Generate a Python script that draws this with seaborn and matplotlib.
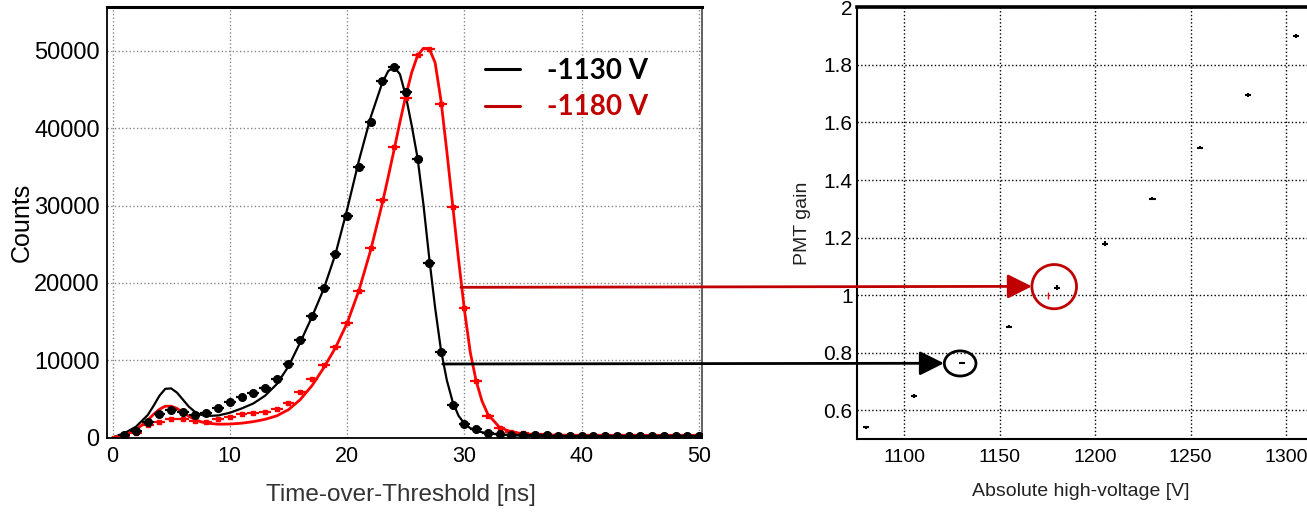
import matplotlib
matplotlib.use("Agg")
import matplotlib.pyplot as plt
import numpy as np
import pandas as pd
import seaborn as sns
from matplotlib.lines import Line2D
from matplotlib.patches import ConnectionPatch, Ellipse
from matplotlib.ticker import MultipleLocator

# ToT histograms (bin centres in ns, counts per bin)
tot_bins = list(range(1, 51))
counts_1130 = [300, 900, 2050, 3100, 3600, 3300, 2900, 3200, 3780, 4630,
               5300, 5760, 6360, 7530, 9470, 12600, 15700, 19300, 23700, 28650,
               35000, 40800, 46100, 47900, 44700, 36000, 22600, 11100, 4200, 1700,
               1100, 620, 420, 330, 290, 270, 260, 250, 240, 240,
               230, 230, 220, 220, 210, 210, 200, 200, 200, 190]
counts_1180 = [200, 600, 1620, 2050, 2400, 2350, 2100, 1980, 2350, 2600,
               3050, 3170, 3340, 3700, 4500, 5900, 7570, 9380, 11670, 14770,
               19000, 24480, 30720, 37620, 43880, 49500, 50300, 43140, 29860, 16800,
               7310, 2820, 1270, 750, 540, 450, 400, 380, 360, 350,
               340, 330, 330, 320, 320, 310, 310, 300, 300, 300]

# fitted curves
fit_t = [0, 1, 2, 3, 3.5, 4, 4.5, 5, 5.5, 6, 6.5, 7, 7.5, 8, 9, 10, 11, 12, 13, 14,
         15, 16, 17, 18, 19, 20, 21, 22, 23, 23.5, 24, 24.5, 25, 25.5, 26, 26.5,
         27, 27.5, 28, 28.5, 29, 29.5, 30, 30.5, 31, 31.5, 32, 33, 34, 35, 37, 40,
         45, 50]
fit_1130 = [0, 540, 1400, 2900, 4100, 5400, 6300, 6350, 5800, 4900, 4000, 3350, 2950,
            2780, 2850, 3200, 3750, 4400, 5400, 6900, 9200, 12300, 15600, 19200,
            23700, 29500, 35800, 41400, 45900, 47400, 47950, 47000, 44200, 40400,
            36200, 30200, 23200, 16800, 11300, 7400, 4600, 2800, 1800, 1200, 880,
            680, 540, 400, 300, 230, 170, 130, 100, 80]
fit_1180 = [0, 320, 970, 2250, 3000, 3650, 4050, 4050, 3750, 3250, 2750, 2350, 2050,
            1870, 1720, 1740, 1850, 2050, 2350, 2800, 3600, 4900, 6700, 9000, 11600,
            14800, 19000, 24200, 30300, 33700, 37200, 40800, 44200, 47200, 49400,
            50350, 50300, 48500, 43600, 37000, 30000, 23000, 16500, 11000, 7300,
            4700, 3000, 1300, 720, 470, 320, 260, 210, 180]

# gain curve
hv = [1080, 1105, 1130, 1155, 1180, 1205, 1230, 1255, 1280, 1305]
gain = [0.541, 0.650, 0.765, 0.891, 1.027, 1.179, 1.335, 1.512, 1.695, 1.900]
gain_err = [0.005, 0.007, 0.005, 0.005, 0.007, 0.008, 0.005, 0.005, 0.007, 0.007]
ref_hv = [1175]
ref_gain = [1.0]

legend_labels = ["-1130 V", "-1180 V"]

BLACK = "black"
RED = "#ff0000"
DARKRED = "#c00000"

sns.set_theme(style="white")
plt.rcParams["font.family"] = ["Liberation Sans", "DejaVu Sans"]

fig = plt.figure(figsize=(13.07, 5.12), dpi=100)
axL = fig.add_axes([0.0816, 0.1455, 0.4555, 0.8402])
axR = fig.add_axes([0.6555, 0.142, 0.3445, 0.8438])

# ---- left: ToT spectra ----
fits = pd.DataFrame({"t": fit_t, "v1130": fit_1130, "v1180": fit_1180})
sns.lineplot(data=fits, x="t", y="v1130", color=BLACK, lw=1.6, estimator=None,
             ax=axL, zorder=2)
sns.lineplot(data=fits, x="t", y="v1180", color=RED, lw=2.0, estimator=None,
             ax=axL, zorder=2)

c1130 = np.array(counts_1130, dtype=float)
c1180 = np.array(counts_1180, dtype=float)
axL.errorbar(tot_bins, c1180, xerr=0.5, yerr=np.sqrt(c1180), fmt="s", ms=2.5,
             color=RED, elinewidth=1.6, capsize=0, zorder=3)
axL.errorbar(tot_bins, c1130, xerr=0.5, yerr=np.sqrt(c1130), fmt="o", ms=5.5,
             color=BLACK, elinewidth=1.6, capsize=0, zorder=4)

axL.set_xlim(-0.5, 50.25)
axL.set_ylim(0, 55650)
axL.xaxis.set_major_locator(MultipleLocator(10))
axL.xaxis.set_minor_locator(MultipleLocator(2))
axL.yaxis.set_major_locator(MultipleLocator(10000))
axL.yaxis.set_minor_locator(MultipleLocator(2000))
axL.grid(True, which="major", ls=":", color="#888888", lw=1.0)
axL.tick_params(axis="both", which="both", direction="in", colors="black")
axL.tick_params(axis="both", which="major", length=8, width=1)
axL.tick_params(axis="both", which="minor", length=5, width=1)
axL.tick_params(axis="x", labelsize=15.5, pad=6)
axL.tick_params(axis="y", labelsize=17, pad=5)
for side in ["left", "bottom"]:
    axL.spines[side].set_color("black")
    axL.spines[side].set_linewidth(1.3)
axL.spines["right"].set_color("#555555")
axL.spines["right"].set_linewidth(1.3)
axL.spines["top"].set_color("black")
axL.spines["top"].set_linewidth(2.2)
axL.set_xlabel("Time-over-Threshold [ns]", fontsize=17.5, color="#333333")
axL.xaxis.label.set_va("center")
axL.xaxis.set_label_coords(0.495, -0.134)
axL.set_ylabel("Counts", fontsize=18, color="black")
axL.yaxis.label.set_va("center")
axL.yaxis.set_label_coords(-0.142, 0.5)

handles = [Line2D([], [], color=BLACK, lw=2.2), Line2D([], [], color=DARKRED, lw=2.2)]
axL.legend(handles, legend_labels, loc="upper left", bbox_to_anchor=(0.6355, 0.882),
           frameon=False, prop={"family": "Lato", "weight": "bold", "size": 20},
           handlelength=1.25, handletextpad=1.0, labelspacing=0.37, borderpad=0,
           borderaxespad=0, labelcolor=[BLACK, DARKRED])

# ---- right: gain vs HV ----
axR.errorbar(hv, gain, xerr=1.6, yerr=gain_err, fmt="none", ecolor=BLACK,
             elinewidth=1.5, capsize=0)
axR.errorbar(ref_hv, ref_gain, xerr=0.5, yerr=0.012, fmt="none", ecolor=RED,
             elinewidth=1.0, capsize=0)
axR.set_xlim(1075, 1311)
axR.set_ylim(0.5, 2.0)
axR.xaxis.set_major_locator(MultipleLocator(50))
axR.xaxis.set_minor_locator(MultipleLocator(10))
axR.yaxis.set_major_locator(MultipleLocator(0.2))
axR.yaxis.set_minor_locator(MultipleLocator(0.05))
axR.yaxis.set_major_formatter(plt.FuncFormatter(lambda v, p: f"{v:g}"))
axR.grid(True, which="major", ls=":", color="black", lw=1.0)
axR.tick_params(axis="both", which="both", direction="in", colors="black")
axR.tick_params(axis="both", which="major", length=8, width=1)
axR.tick_params(axis="both", which="minor", length=4, width=1)
axR.tick_params(axis="x", labelsize=14, pad=7)
axR.tick_params(axis="y", labelsize=15, pad=3)
axR.spines["right"].set_visible(False)
axR.spines["top"].set_linewidth(2.6)
axR.spines["left"].set_linewidth(1.5)
axR.spines["bottom"].set_linewidth(1.5)
for side in ["left", "bottom", "top"]:
    axR.spines[side].set_color("black")
axR.set_xlabel("Absolute high-voltage [V]", fontsize=14, color="#222222")
axR.xaxis.label.set_va("center")
axR.xaxis.set_label_coords(0.497, -0.12)
axR.set_ylabel("PMT gain", fontsize=14, color="#222222")
axR.yaxis.label.set_va("center")
axR.yaxis.set_label_coords(-0.12, 0.5)

axR.add_patch(Ellipse((1178.5, 1.030), 23.4, 0.1536, fill=False, ec=DARKRED,
                      lw=2.0, zorder=5))
axR.add_patch(Ellipse((1129.2, 0.7633), 16.6, 0.0873, fill=False, ec=BLACK,
                      lw=2.0, zorder=5))

# arrows from the spectra to the gain points
for start, end, col in [((29.7, 19430), (1166.8, 1.031), DARKRED),
                        ((28.15, 9510), (1120.7, 0.764), BLACK)]:
    con = ConnectionPatch(xyA=start, coordsA=axL.transData, xyB=end,
                          coordsB=axR.transData,
                          arrowstyle="-|>,head_length=0.4,head_width=0.2",
                          mutation_scale=37, lw=2.0, color=col, zorder=6)
    fig.add_artist(con)

fig.savefig("out.png", dpi=100)
plt.close(fig)
